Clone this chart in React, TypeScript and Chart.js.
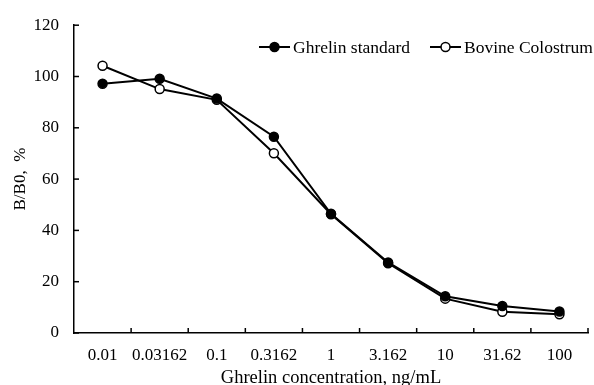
import React, { useEffect, useRef } from "react";
import { Chart, registerables } from "chart.js";

Chart.register(...registerables);

const categories = ["0.01", "0.03162", "0.1", "0.3162", "1", "3.162", "10", "31.62", "100"];
const ghrelinStandard = [97.2, 99.1, 91.4, 76.5, 46.5, 27.5, 14.3, 10.5, 8.4];
const bovineColostrum = [104.2, 95.1, 90.9, 70.1, 46.3, 27.2, 13.4, 8.3, 7.3];
const yTicks = [0, 20, 40, 60, 80, 100, 120];
const seriesNames = ["Ghrelin standard", "Bovine Colostrum"];

const FONT = "'Liberation Serif', 'Times New Roman', serif";

const tickPlugin = {
  id: "insideTicks",
  afterDraw(chart: any) {
    const ctx = chart.ctx;
    const x = chart.scales.x;
    const y = chart.scales.y;
    const area = chart.chartArea;
    ctx.save();
    ctx.strokeStyle = "#000";
    ctx.lineWidth = 1.5;
    y.ticks.forEach((t: any) => {
      const py = y.getPixelForValue(t.value);
      ctx.beginPath();
      ctx.moveTo(area.left, py);
      ctx.lineTo(area.left + 5, py);
      ctx.stroke();
    });
    const n = categories.length;
    for (let i = 0; i < n; i++) {
      const c = x.getPixelForValue(i);
      const next = i < n - 1 ? x.getPixelForValue(i + 1) : c + (c - x.getPixelForValue(i - 1));
      const px = (c + next) / 2;
      ctx.beginPath();
      ctx.moveTo(px, area.bottom);
      ctx.lineTo(px, area.bottom - 5);
      ctx.stroke();
    }
    ctx.restore();
  },
};

const legendPlugin = {
  id: "customLegend",
  afterDraw(chart: any) {
    const ctx = chart.ctx;
    const items = [
      { x: 259, ds: chart.data.datasets[0] },
      { x: 430, ds: chart.data.datasets[1] },
    ];
    const yy = 47;
    ctx.save();
    items.forEach((it) => {
      ctx.strokeStyle = "#000";
      ctx.lineWidth = 2;
      ctx.beginPath();
      ctx.moveTo(it.x, yy);
      ctx.lineTo(it.x + 31, yy);
      ctx.stroke();
      ctx.beginPath();
      ctx.arc(it.x + 15.5, yy, it.ds.pointRadius, 0, Math.PI * 2);
      ctx.fillStyle = it.ds.pointBackgroundColor;
      ctx.fill();
      ctx.lineWidth = it.ds.pointBorderWidth;
      ctx.stroke();
      ctx.fillStyle = "#000";
      ctx.font = `17.5px ${FONT}`;
      ctx.textBaseline = "middle";
      ctx.textAlign = "left";
      ctx.fillText(it.ds.label, it.x + 34, yy + 1);
    });
    ctx.restore();
  },
};

export default function App() {
  const ref = useRef<HTMLCanvasElement>(null);
  useEffect(() => {
    document.body.style.margin = "0";
    const chart = new Chart(ref.current!, {
      type: "line",
      data: {
        labels: categories,
        datasets: [
          {
            label: seriesNames[0],
            data: ghrelinStandard,
            borderColor: "#000",
            borderWidth: 2,
            pointRadius: 4.5,
            pointBackgroundColor: "#000",
            pointBorderColor: "#000",
            pointBorderWidth: 1.5,
            tension: 0,
          },
          {
            label: seriesNames[1],
            data: bovineColostrum,
            borderColor: "#000",
            borderWidth: 2,
            pointRadius: 4.5,
            pointBackgroundColor: "#fff",
            pointBorderColor: "#000",
            pointBorderWidth: 1.5,
            tension: 0,
          },
        ],
      },
      options: {
        animation: false,
        responsive: false,
        layout: { padding: { top: 21, right: 5, left: 0, bottom: 0 } },
        plugins: { legend: { display: false }, tooltip: { enabled: false } },
        scales: {
          x: {
            type: "category",
            offset: true,
            grid: { display: false, drawTicks: false },
            border: { display: true, color: "#000", width: 1.5 },
            ticks: { color: "#000", font: { family: FONT, size: 17 }, padding: 12, maxRotation: 0, autoSkip: false },
            title: {
              display: true,
              text: "Ghrelin concentration, ng/mL",
              color: "#000",
              font: { family: FONT, size: 18.5 },
              padding: { top: 0, bottom: -4 },
            },
            afterFit(scale: any) {
              scale.height = 52;
            },
          },
          y: {
            min: 0,
            max: 120,
            afterBuildTicks(scale: any) {
              scale.ticks = yTicks.map((v) => ({ value: v }));
            },
            grid: { display: false, drawTicks: false },
            border: { display: true, color: "#000", width: 1.5 },
            ticks: { color: "#000", font: { family: FONT, size: 17 }, padding: 15 },
            title: {
              display: true,
              text: "B/B0,  %",
              color: "#000",
              font: { family: FONT, size: 17 },
              padding: { top: 10, bottom: 0 },
            },
            afterFit(scale: any) {
              scale.width = 74;
            },
          },
        },
      },
      plugins: [tickPlugin, legendPlugin],
    });
    return () => chart.destroy();
  }, []);
  return (
    <div style={{ width: 594, height: 385 }}>
      <canvas ref={ref} width={594} height={385} style={{ width: 594, height: 385 }} />
    </div>
  );
}
